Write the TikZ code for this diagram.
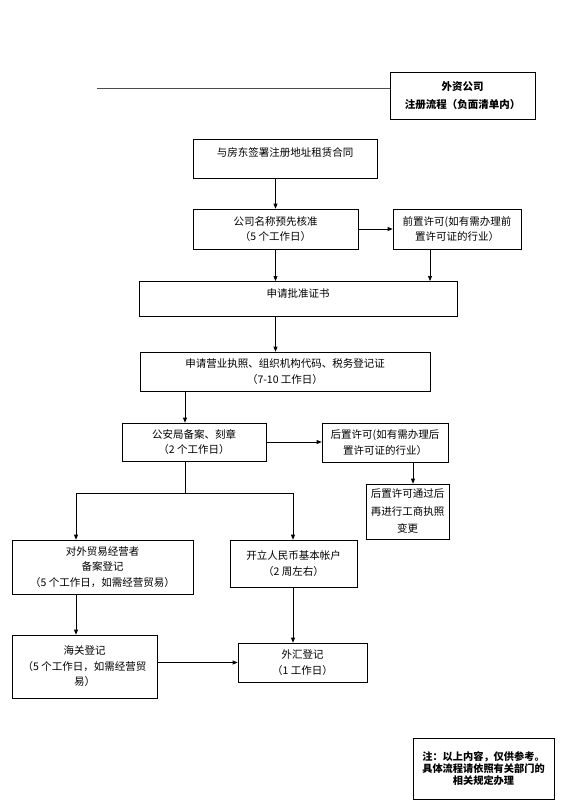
\documentclass[tikz,border=0pt]{standalone}
\usepackage{fontspec}
\setmainfont{Noto Sans CJK SC}
\usetikzlibrary{arrows.meta}

\begin{document}
\begin{tikzpicture}[x=1pt,y=-1pt,>={Triangle[length=5pt,width=4pt]},
  box/.style={draw,line width=0.7pt,align=center,inner sep=0pt,font=\fontsize{10.5}{15.5}\selectfont},
  note/.style={box,font=\fontsize{10.2}{12}\selectfont\bfseries},
  flow/.style={->,line width=0.7pt}]
\useasboundingbox (0,0) rectangle (565,811);
% title
\node[box,font=\fontsize{10.5}{18}\selectfont\bfseries,minimum width=145pt,minimum height=47pt] (hd) at (462.5,95.5) {外资公司\\注册流程（负面清单内）};
\coordinate (hl) at (97,88);
\draw[gray!60!black,line width=0.6pt] (hl) -- (hl -| hd.west);
% main flow
\node[box,anchor=north,minimum width=184pt,text height=17pt,text depth=22pt] (zl) at (285,139) {与房东签署注册地址租赁合同};
\node[box,minimum width=165pt,minimum height=40pt] (mc) at (275.5,229) {公司名称预先核准\\（5 个工作日）};
\node[box,minimum width=128pt,minimum height=40pt] (qz) at (457,229) {前置许可(如有需办理前\\置许可证的行业）};
\node[box,anchor=north,minimum width=318pt,text height=16pt,text depth=19pt] (pz) at (298,281) {申请批准证书};
\node[box,minimum width=290pt,minimum height=39pt] (yy) at (285,371.5) {申请营业执照、组织机构代码、税务登记证\\（7-10 工作日）};
\node[box,minimum width=144pt,minimum height=38pt] (ga) at (194,442) {公安局备案、刻章\\（2 个工作日）};
\node[box,minimum width=126pt,minimum height=39pt] (hz) at (385,442.5) {后置许可(如有需办理后\\置许可证的行业）};
\node[box,font=\fontsize{10.5}{17.5}\selectfont,minimum width=83pt,minimum height=55pt] (ht) at (407.5,511.5) {后置许可通过后\\再进行工商执照\\变更};
\node[box,minimum width=181pt,minimum height=54pt] (wm) at (102.5,567) {对外贸易经营者\\备案登记\\（5 个工作日，如需经营贸易）};
\node[box,minimum width=127pt,minimum height=47pt] (kl) at (293.5,563.5) {开立人民币基本帐户\\（2 周左右）};
\node[box,minimum width=145pt,minimum height=63pt] (hg) at (84.5,666.5) {海关登记\\（5 个工作日，如需经营贸\\易）};
\node[box,minimum width=129pt,minimum height=39pt] (wh) at (302.5,662.5) {外汇登记\\（1 工作日）};
\node[note,minimum width=141pt,minimum height=61pt] (zy) at (483.5,768.5) {注：以上内容，仅供参考。\\具体流程请依照有关部门的\\相关规定办理};
% connectors
\coordinate (qx) at (430,0);
\coordinate (hx) at (413,0);
\coordinate (fk) at (185,493);
\coordinate (lx) at (76,493);
\coordinate (rx) at (293,493);
\draw[flow] (mc.north |- zl.south) -- (mc.north);
\draw[flow] (mc.east) -- (qz.west);
\draw[flow] (mc.south) -- (mc.south |- pz.north);
\draw[flow] (qz.south -| qx) -- (pz.north -| qx);
\draw[flow] (pz.south -| mc.south) -- (yy.north -| mc.south);
\draw[flow] (yy.south -| fk) -- (ga.north -| fk);
\draw[flow] (ga.east) -- (ga.east -| hz.west);
\draw[flow] (hz.south -| hx) -- (ht.north -| hx);
\draw[line width=0.7pt] (ga.south -| fk) -- (fk);
\draw[flow] (fk) -- (lx) -- (lx |- wm.north);
\draw[flow] (fk) -- (rx) -- (rx |- kl.north);
\draw[flow] (wm.south -| lx) -- (hg.north -| lx);
\draw[flow] (kl.south -| rx) -- (wh.north -| rx);
\draw[flow] (hg.east |- wh.west) -- (wh.west);
\end{tikzpicture}
\end{document}
